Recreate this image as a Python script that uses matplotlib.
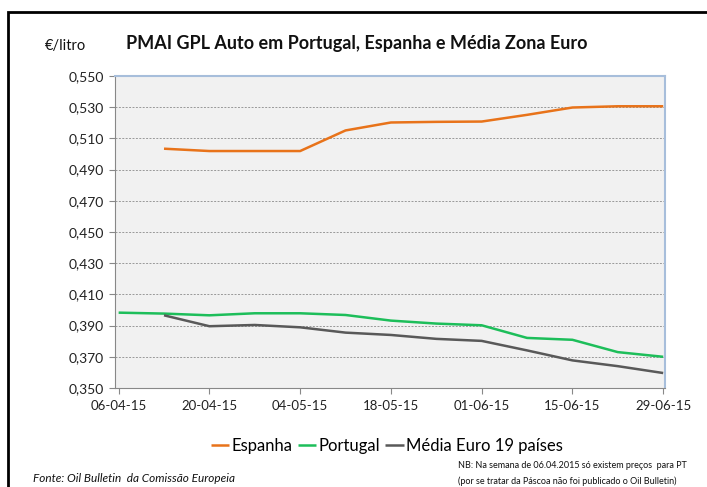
import matplotlib
matplotlib.use("Agg")
import matplotlib.pyplot as plt
import matplotlib.ticker as mticker
from matplotlib.patches import Rectangle

plt.rcParams['font.family'] = ['Lato', 'DejaVu Sans']

# weekly dates (Mondays), 06-04-2015 .. 29-06-2015
semanas = ['06-04-15', '13-04-15', '20-04-15', '27-04-15', '04-05-15', '11-05-15',
           '18-05-15', '25-05-15', '01-06-15', '08-06-15', '15-06-15', '22-06-15', '29-06-15']
espanha = [None, 0.5034, 0.5019, 0.5019, 0.5019, 0.5151, 0.5202, 0.5206, 0.5208,
           0.5251, 0.5298, 0.5306, 0.5306]
portugal = [0.3983, 0.3977, 0.3966, 0.3979, 0.3979, 0.3968, 0.3932, 0.3913, 0.3902,
            0.3821, 0.3809, 0.3730, 0.3700]
media_euro = [None, 0.3966, 0.3896, 0.3904, 0.3889, 0.3855, 0.3840, 0.3815, 0.3802,
              0.3741, 0.3677, 0.3640, 0.3596]
y_ticks = [0.35, 0.37, 0.39, 0.41, 0.43, 0.45, 0.47, 0.49, 0.51, 0.53, 0.55]

series = [('Espanha', espanha, '#E8731A'),
          ('Portugal', portugal, '#1DBE5A'),
          ('Média Euro 19 países', media_euro, '#595959')]

fig = plt.figure(figsize=(7.07, 4.87), dpi=100)
# outer frame (only top and left visible in the original crop)
fig.patches.append(Rectangle((8 / 707, -0.1), 1.2, 1 - 12 / 487 + 0.1, transform=fig.transFigure,
                             fill=False, edgecolor='black', linewidth=2))

ax = fig.add_axes([115 / 707, 1 - 388 / 487, 550 / 707, 312 / 487])
ax.set_facecolor('#F1F1F1')

x = list(range(len(semanas)))
for nome, vals, cor in series:
    xs = [i for i, v in zip(x, vals) if v is not None]
    ys = [v for v in vals if v is not None]
    ax.plot(xs, ys, color=cor, linewidth=1.8, label=nome, solid_capstyle='butt')

ax.set_ylim(0.35, 0.55)
ax.set_xlim(-0.08, len(semanas) - 1 + 0.04)
ax.set_yticks(y_ticks)
ax.yaxis.set_major_formatter(mticker.FuncFormatter(lambda v, p: f'{v:.3f}'.replace('.', ',')))
ax.set_xticks(x[::2])
ax.set_xticklabels(semanas[::2])
ax.tick_params(axis='both', labelsize=10, colors='#888888', labelcolor='#222222', length=4, width=0.8)
ax.tick_params(axis='x', labelsize=9.5, pad=5)
ax.tick_params(axis='y', pad=4)
ax.grid(axis='y', color='#999999', linestyle=(0, (2, 1.5)), linewidth=0.7)
ax.set_axisbelow(True)
for s in ['left', 'bottom']:
    ax.spines[s].set_color('#888888')
    ax.spines[s].set_linewidth(0.8)
for s in ['top', 'right']:
    ax.spines[s].set_color('#A7BEDB')
    ax.spines[s].set_linewidth(1.5)

fig.text(357 / 707, 1 - 44 / 487, 'PMAI GPL Auto em Portugal, Espanha e Média Zona Euro',
         ha='center', va='center', fontsize=13, fontweight='bold', color='#111111')
fig.text(45 / 707, 1 - 46 / 487, '€/litro', ha='left', va='center', fontsize=10.5, color='#111111')

fig.legend(loc='center', bbox_to_anchor=(387 / 707, 1 - 446 / 487), ncol=3, frameon=False,
           fontsize=12, handlelength=1.1, handletextpad=0.15, columnspacing=0.3)

fig.text(33 / 707, 1 - 478 / 487, 'Fonte: Oil Bulletin  da Comissão Europeia', ha='left', va='center',
         fontsize=8.5, style='italic', color='#111111')
fig.text(458 / 707, 1 - 466 / 487, 'NB: Na semana de 06.04.2015 só existem preços  para PT',
         ha='left', va='center', fontsize=6.5, color='#111111')
fig.text(458 / 707, 1 - 481 / 487, '(por se tratar da Páscoa não foi publicado o Oil Bulletin)',
         ha='left', va='center', fontsize=6.5, color='#111111')

fig.savefig('out.png', dpi=100)
